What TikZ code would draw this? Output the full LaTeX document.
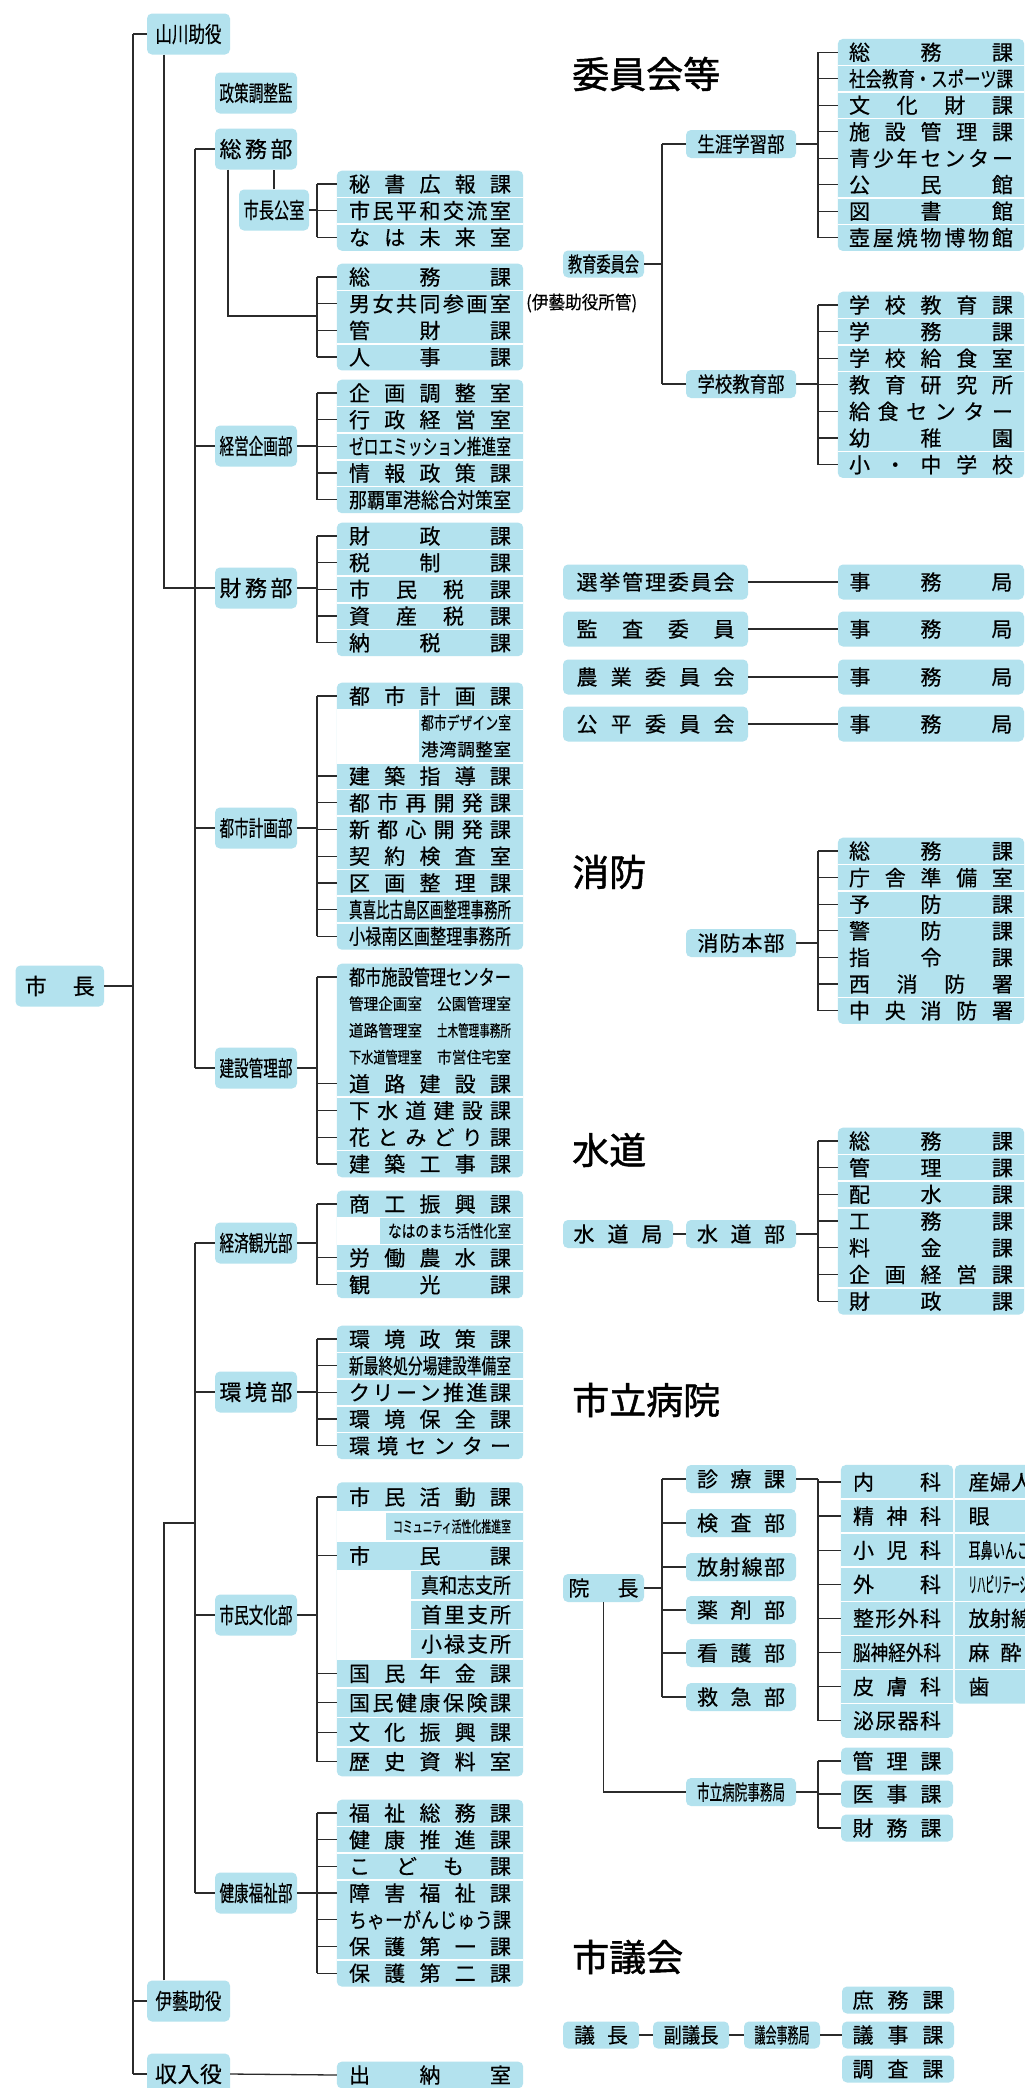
\documentclass[tikz,border=0pt]{standalone}
\usepackage{fontspec}
\usepackage{graphicx}
\usetikzlibrary{positioning}
\newfontfamily\jp[FakeBold=0.5]{Noto Sans CJK JP}
\newfontfamily\jpt[FakeBold=1.2]{Noto Sans CJK JP}
\definecolor{bf}{HTML}{B3E2EE}
\definecolor{lc}{HTML}{2B2B2B}
\pgfdeclarelayer{bg}
\pgfsetlayers{bg,main}
\newcommand\fs[1]{\fontsize{#1}{#1}\selectfont}
\ExplSyntaxOn
\box_new:N \l_spr_box
\bool_new:N \l_spr_first_bool
\NewDocumentCommand \spr { m m }
  {
    \hbox_set:Nn \l_spr_box { #2 }
    \dim_compare:nNnTF { \box_wd:N \l_spr_box } > { #1 }
      { \resizebox { #1 } { \height } { #2 } }
      {
        \hbox_to_wd:nn { #1 }
          {
            \bool_set_true:N \l_spr_first_bool
            \tl_map_inline:nn { #2 }
              {
                \bool_if:NTF \l_spr_first_bool
                  { \bool_set_false:N \l_spr_first_bool }
                  { \hfill }
                ##1
              }
          }
      }
  }
\ExplSyntaxOff
\newcommand\Lt[1]{\spr{162pt}{#1}}
\newcommand\Rt[1]{\spr{164pt}{#1}}
\newcommand\Pt[3]{\hbox to 162pt{\hfill\fs{#1}\spr{#2}{#3}}}
\newcommand\grp[2]{\begin{pgfonlayer}{bg}\fill[bf, rounded corners=5pt] (#1.north west) rectangle (#2.south east);\end{pgfonlayer}}
\newcommand\cut[3]{\begin{pgfonlayer}{bg}\fill[white] (#1.north west) rectangle ([xshift=#3]#2.south west);\end{pgfonlayer}}
\newcommand\seps[1]{\foreach \nn in {#1} {\draw[sepl] (\nn.south west) -- (\nn.south east);}}
\newcommand\tree[5]{%
  \draw[conn] (#1.east) -- (#1.east -| #2);
  \draw[conn] (#2 |- #1.east) -- (#2 |- #3.west);
  \draw[conn] (#2 |- #3.west) -- (#2 |- #4.west);
  \foreach \nn in {#5} {\draw[conn] (#2 |- \nn.west) -- (\nn.west);}
}
\tikzset{
  conn/.style={draw=lc, line width=1.3pt},
  sepl/.style={draw=white, line width=1.6pt},
  rowL/.style={inner sep=0pt, minimum width=186pt, minimum height=26.3pt, font=\jp\fs{21}, text=black},
  rowH/.style={inner sep=0pt, minimum width=112pt, minimum height=33.7pt, font=\jp\fs{21}, text=black},
  bx/.style={fill=bf, rounded corners=5pt, inner sep=0pt, font=\jp\fs{21}, text=black},
  dbox/.style={bx, minimum width=82pt, minimum height=41pt, font=\jp\fs{22}},
  ybox/.style={bx, minimum width=83pt, minimum height=41pt, font=\jp\fs{22}},
  rbox/.style={bx, minimum width=110pt, minimum height=28pt},
  ttl/.style={anchor=west, inner sep=0pt, font=\jpt\fs{37}, text=black},
}
\begin{document}
\begin{tikzpicture}[x=1pt, y=-1pt]
\useasboundingbox (0,0) rectangle (1025,2088);
\begin{pgfonlayer}{bg}\fill[white] (0,0) rectangle (1025,2088);\end{pgfonlayer}
% bus coordinates
\coordinate (busM0) at (133,0);
\coordinate (busY) at (164,0);
\coordinate (busM1) at (195,0);
\coordinate (busL) at (317,0);
\coordinate (busE) at (662,0);
\coordinate (busR) at (818,0);
\coordinate (somuJ) at (228,316);
\coordinate (igeiJ) at (164,1523);

% ===== left: top level
\node[bx, minimum width=88.5pt, minimum height=41pt, font=\jp\fs{22}] (mayor) at (59.75,986) {\spr{70pt}{市長}};
\node[ybox] (yamakawa) at (188.5,34) {\spr{66pt}{山川助役}};
\node[ybox] (igei) at (188.5,2001) {\spr{66pt}{伊藝助役}};
\node[ybox] (shunyu) at (188.5,2074) {\spr{67pt}{収入役}};
\node[dbox] (seisaku) at (256,93) {\spr{73pt}{政策調整監}};
\node[dbox] (somu) at (256,149) {\spr{73pt}{総務部}};
\node[dbox] (keiei) at (256,446) {\spr{73pt}{経営企画部}};
\node[dbox] (zaimu) at (256,588) {\spr{73pt}{財務部}};
\node[dbox] (toshi) at (256,828) {\spr{73pt}{都市計画部}};
\node[dbox] (kensetsu) at (256,1068) {\spr{73pt}{建設管理部}};
\node[dbox] (keizai) at (256,1243) {\spr{73pt}{経済観光部}};
\node[dbox] (kankyo) at (256,1392) {\spr{73pt}{環境部}};
\node[dbox] (shimin) at (256,1615) {\spr{73pt}{市民文化部}};
\node[dbox] (kenko) at (256,1893) {\spr{73pt}{健康福祉部}};
\node[bx, minimum width=70pt, minimum height=41pt, font=\jp\fs{22}] (kocho) at (274,210) {\spr{61pt}{市長公室}};

% ===== left leaf groups
\node[rowL] (kA1) at (430,184) {\Lt{秘書広報課}};
\node[rowL,below=0pt of kA1] (kA2) {\Lt{市民平和交流室}};
\node[rowL,below=0pt of kA2] (kA3) {\Lt{なは未来室}};
\grp{kA1}{kA3} \seps{kA1,kA2}

\node[rowL] (sA1) at (430,277) {\Lt{総務課}};
\node[rowL,below=0pt of sA1] (sA2) {\Lt{男女共同参画室}};
\node[rowL,below=0pt of sA2] (sA3) {\Lt{管財課}};
\node[rowL,below=0pt of sA3] (sA4) {\Lt{人事課}};
\grp{sA1}{sA4} \seps{sA1,sA3}
\node[anchor=west, inner sep=0pt, font=\jp\fs{18}] (note) at (526,303) {\spr{111pt}{(伊藝助役所管)}};

\node[rowL] (kk1) at (430,393) {\Lt{企画調整室}};
\node[rowL,below=0pt of kk1] (kk2) {\Lt{行政経営室}};
\node[rowL,below=0pt of kk2] (kk3) {\Lt{ゼロエミッション推進室}};
\node[rowL,below=0pt of kk3] (kk4) {\Lt{情報政策課}};
\node[rowL,below=0pt of kk4] (kk5) {\Lt{那覇軍港総合対策室}};
\grp{kk1}{kk5} \seps{kk1,kk2,kk3,kk4}

\node[rowL] (zm1) at (430,536) {\Lt{財政課}};
\node[rowL,below=0pt of zm1] (zm2) {\Lt{税制課}};
\node[rowL,below=0pt of zm2] (zm3) {\Lt{市民税課}};
\node[rowL,below=0pt of zm3] (zm4) {\Lt{資産税課}};
\node[rowL,below=0pt of zm4] (zm5) {\Lt{納税課}};
\grp{zm1}{zm5} \seps{zm1,zm2,zm3,zm4}

\node[rowL] (tk1) at (430,696) {\Lt{都市計画課}};
\node[rowL,below=0pt of tk1] (tk2) {\Pt{17.5}{90pt}{都市デザイン室}};
\node[rowL,below=0pt of tk2] (tk3) {\Pt{17.5}{90pt}{港湾調整室}};
\node[rowL,below=0pt of tk3] (tk4) {\Lt{建築指導課}};
\node[rowL,below=0pt of tk4] (tk5) {\Lt{都市再開発課}};
\node[rowL,below=0pt of tk5] (tk6) {\Lt{新都心開発課}};
\node[rowL,below=0pt of tk6] (tk7) {\Lt{契約検査室}};
\node[rowL,below=0pt of tk7] (tk8) {\Lt{区画整理課}};
\node[rowL,below=0pt of tk8] (tk9) {\Lt{真喜比古島区画整理事務所}};
\node[rowL,below=0pt of tk9] (tk10) {\Lt{小禄南区画整理事務所}};
\grp{tk1}{tk10} \cut{tk2}{tk3}{82pt} \seps{tk1,tk3,tk4,tk5,tk7,tk8,tk9}

\node[rowL] (kn1) at (430,977) {\Lt{都市施設管理センター}};
\node[rowL,below=0pt of kn1] (kn2) {\hbox to 162pt{\fs{16}\spr{73pt}{管理企画室}\hfill\spr{74pt}{公園管理室}}};
\node[rowL,below=0pt of kn2] (kn3) {\hbox to 162pt{\fs{16}\spr{73pt}{道路管理室}\hfill\spr{74pt}{土木管理事務所}}};
\node[rowL,below=0pt of kn3] (kn4) {\hbox to 162pt{\fs{16}\spr{73pt}{下水道管理室}\hfill\spr{74pt}{市営住宅室}}};
\node[rowL,below=0pt of kn4] (kn5) {\Lt{道路建設課}};
\node[rowL,below=0pt of kn5] (kn6) {\Lt{下水道建設課}};
\node[rowL,below=0pt of kn6] (kn7) {\Lt{花とみどり課}};
\node[rowL,below=0pt of kn7] (kn8) {\Lt{建築工事課}};
\grp{kn1}{kn8} \seps{kn5,kn7}

\node[rowL, minimum height=26.5pt] (kz1) at (430,1204) {\Lt{商工振興課}};
\node[rowL, minimum height=26.5pt,below=0pt of kz1] (kz2) {\Pt{17}{123pt}{なはのまち活性化室}};
\node[rowL, minimum height=26.5pt,below=0pt of kz2] (kz3) {\Lt{労働農水課}};
\node[rowL, minimum height=26.5pt,below=0pt of kz3] (kz4) {\Lt{観光課}};
\grp{kz1}{kz4} \cut{kz2}{kz2}{43pt} \seps{kz1,kz2,kz3}

\node[rowL] (kb1) at (430,1339) {\Lt{環境政策課}};
\node[rowL,below=0pt of kb1] (kb2) {\Lt{新最終処分場建設準備室}};
\node[rowL,below=0pt of kb2] (kb3) {\Lt{クリーン推進課}};
\node[rowL,below=0pt of kb3] (kb4) {\Lt{環境保全課}};
\node[rowL,below=0pt of kb4] (kb5) {\Lt{環境センター}};
\grp{kb1}{kb5} \seps{kb1,kb2,kb3,kb4}

\node[rowL, minimum height=29pt] (sb1) at (430,1497) {\Lt{市民活動課}};
\node[rowL, minimum height=29pt,below=0pt of sb1] (sb2) {\Pt{15.5}{118pt}{コミュニティ活性化推進室}};
\node[rowL, minimum height=29pt,below=0pt of sb2] (sb3) {\Lt{市民課}};
\node[rowL, minimum height=29pt,below=0pt of sb3] (sb4) {\Pt{21}{90pt}{真和志支所}};
\node[rowL, minimum height=29pt,below=0pt of sb4] (sb5) {\Pt{21}{90pt}{首里支所}};
\node[rowL, minimum height=29pt,below=0pt of sb5] (sb6) {\Pt{21}{90pt}{小禄支所}};
\node[rowL, minimum height=29pt,below=0pt of sb6] (sb7) {\Lt{国民年金課}};
\node[rowL, minimum height=29pt,below=0pt of sb7] (sb8) {\Lt{国民健康保険課}};
\node[rowL, minimum height=29pt,below=0pt of sb8] (sb9) {\Lt{文化振興課}};
\node[rowL, minimum height=29pt,below=0pt of sb9] (sb10) {\Lt{歴史資料室}};
\grp{sb1}{sb10} \cut{sb2}{sb2}{49pt} \cut{sb4}{sb6}{74pt}
\seps{sb1,sb2,sb3,sb4,sb5,sb6,sb7,sb8,sb9}

\node[rowL] (kf1) at (430,1813) {\Lt{福祉総務課}};
\node[rowL,below=0pt of kf1] (kf2) {\Lt{健康推進課}};
\node[rowL,below=0pt of kf2] (kf3) {\Lt{こども課}};
\node[rowL,below=0pt of kf3] (kf4) {\Lt{障害福祉課}};
\node[rowL,below=0pt of kf4] (kf5) {\Lt{ちゃーがんじゅう課}};
\node[rowL,below=0pt of kf5] (kf6) {\Lt{保護第一課}};
\node[rowL,below=0pt of kf6] (kf7) {\Lt{保護第二課}};
\grp{kf1}{kf7} \seps{kf1,kf2,kf3,kf6}

\node[rowL] (sn) at (430,2075) {\Lt{出納室}};
\grp{sn}{sn}

% ===== left connectors
\draw[conn] (mayor.east) -- (mayor.east -| busM0);
\draw[conn] (busM0 |- yamakawa.west) -- (busM0 |- shunyu.west);
\foreach \nn in {yamakawa,igei,shunyu} {\draw[conn] (busM0 |- \nn.west) -- (\nn.west);}
\draw[conn] (yamakawa.south -| busY) -- (busY |- zaimu.west) -- (zaimu.west);
\draw[conn] (busM1 |- somu.west) -- (busM1 |- kensetsu.west);
\foreach \nn in {somu,keiei,toshi,kensetsu} {\draw[conn] (busM1 |- \nn.west) -- (\nn.west);}
\draw[conn] (igei.north -| igeiJ) -- (igeiJ) -- (igeiJ -| busM1);
\draw[conn] (busM1 |- keizai.west) -- (busM1 |- kenko.west);
\foreach \nn in {keizai,kankyo,shimin,kenko} {\draw[conn] (busM1 |- \nn.west) -- (\nn.west);}

\draw[conn] (somu.south -| somuJ) -- (somuJ) -- (somuJ -| busL);
\draw[conn] (busL |- sA1.west) -- (busL |- sA4.west);
\foreach \nn in {sA1,sA2,sA3,sA4} {\draw[conn] (busL |- \nn.west) -- (\nn.west);}
\draw[conn] (kocho.north) -- (kocho.north |- somu.south);
\tree{kocho}{busL}{kA1}{kA3}{kA1,kA2,kA3}
\tree{keiei}{busL}{kk1}{kk5}{kk1,kk2,kk3,kk4,kk5}
\tree{zaimu}{busL}{zm1}{zm5}{zm1,zm2,zm3,zm4,zm5}
\tree{toshi}{busL}{tk1}{tk10}{tk1,tk4,tk5,tk6,tk7,tk8,tk9,tk10}
\tree{kensetsu}{busL}{kn1}{kn8}{kn1,kn5,kn6,kn7,kn8}
\tree{keizai}{busL}{kz1}{kz4}{kz1,kz3,kz4}
\tree{kankyo}{busL}{kb1}{kb5}{kb1,kb2,kb3,kb4,kb5}
\tree{shimin}{busL}{sb1}{sb10}{sb1,sb3,sb7,sb8,sb9,sb10}
\tree{kenko}{busL}{kf1}{kf7}{kf1,kf2,kf3,kf4,kf5,kf6,kf7}
\draw[conn] (shunyu.east) -- (sn.west);

% ===== right: titles
\node[ttl] (tt1) at (572,74) {委員会等};
\node[ttl] (tt2) at (572,872) {消防};
\node[ttl] (tt3) at (572,1150) {水道};
\node[ttl] (tt4) at (572,1400) {市立病院};
\node[ttl] (tt5) at (572,1957) {市議会};

% ===== education
\node[bx, minimum width=81pt, minimum height=27pt] (kyoiku) at (603.5,264) {\spr{71pt}{教育委員会}};
\node[rbox] (shogai) at (741,144) {\spr{87pt}{生涯学習部}};
\node[rbox] (gakko) at (741,384) {\spr{87pt}{学校教育部}};

\node[rowL, minimum height=26.1pt] (sg1) at (931,52.2) {\Rt{総務課}};
\node[rowL, minimum height=26.1pt,below=0pt of sg1] (sg2) {\Rt{社会教育・スポーツ課}};
\node[rowL, minimum height=26.1pt,below=0pt of sg2] (sg3) {\Rt{文化財課}};
\node[rowL, minimum height=26.1pt,below=0pt of sg3] (sg4) {\Rt{施設管理課}};
\node[rowL, minimum height=26.1pt,below=0pt of sg4] (sg5) {\Rt{青少年センター}};
\node[rowL, minimum height=26.1pt,below=0pt of sg5] (sg6) {\Rt{公民館}};
\node[rowL, minimum height=26.1pt,below=0pt of sg6] (sg7) {\Rt{図書館}};
\node[rowL, minimum height=26.1pt,below=0pt of sg7] (sg8) {\Rt{壺屋焼物博物館}};
\grp{sg1}{sg8} \seps{sg1,sg2,sg3,sg6,sg7}

\node[rowL, minimum height=26.2pt] (gk1) at (931,305) {\Rt{学校教育課}};
\node[rowL, minimum height=26.2pt,below=0pt of gk1] (gk2) {\Rt{学務課}};
\node[rowL, minimum height=26.2pt,below=0pt of gk2] (gk3) {\Rt{学校給食室}};
\node[rowL, minimum height=26.2pt,below=0pt of gk3] (gk4) {\Rt{教育研究所}};
\node[rowL, minimum height=26.2pt,below=0pt of gk4] (gk5) {\Rt{給食センター}};
\node[rowL, minimum height=26.2pt,below=0pt of gk5] (gk6) {\Rt{幼稚園}};
\node[rowL, minimum height=26.2pt,below=0pt of gk6] (gk7) {\Rt{小・中学校}};
\grp{gk1}{gk7} \seps{gk1,gk2,gk3,gk6}

\tree{kyoiku}{busE}{shogai}{gakko}{shogai,gakko}
\tree{shogai}{busR}{sg1}{sg8}{sg1,sg2,sg3,sg4,sg5,sg6,sg7,sg8}
\tree{gakko}{busR}{gk1}{gk7}{gk1,gk2,gk3,gk4,gk5,gk6,gk7}

% ===== committees
\node[bx, minimum width=185pt, minimum height=35pt] (senkyo) at (655.5,582) {\spr{158pt}{選挙管理委員会}};
\node[bx, minimum width=185pt, minimum height=35pt] (kansa) at (655.5,629) {\spr{158pt}{監査委員}};
\node[bx, minimum width=185pt, minimum height=35pt] (nogyo) at (655.5,677) {\spr{158pt}{農業委員会}};
\node[bx, minimum width=185pt, minimum height=35pt] (kohei) at (655.5,724) {\spr{158pt}{公平委員会}};
\node[bx, minimum width=186pt, minimum height=35pt] (sj1) at (931,582) {\spr{163pt}{事務局}};
\node[bx, minimum width=186pt, minimum height=35pt] (sj2) at (931,629) {\spr{163pt}{事務局}};
\node[bx, minimum width=186pt, minimum height=35pt] (sj3) at (931,677) {\spr{163pt}{事務局}};
\node[bx, minimum width=186pt, minimum height=35pt] (sj4) at (931,724) {\spr{163pt}{事務局}};
\draw[conn] (senkyo.east) -- (sj1.west);
\draw[conn] (kansa.east) -- (sj2.west);
\draw[conn] (nogyo.east) -- (sj3.west);
\draw[conn] (kohei.east) -- (sj4.west);

% ===== fire
\node[rbox] (shobo) at (741,943) {\spr{87pt}{消防本部}};
\node[rowL, minimum height=26.2pt] (sh1) at (931,851) {\Rt{総務課}};
\node[rowL, minimum height=26.2pt,below=0pt of sh1] (sh2) {\Rt{庁舎準備室}};
\node[rowL, minimum height=26.2pt,below=0pt of sh2] (sh3) {\Rt{予防課}};
\node[rowL, minimum height=26.2pt,below=0pt of sh3] (sh4) {\Rt{警防課}};
\node[rowL, minimum height=26.2pt,below=0pt of sh4] (sh5) {\Rt{指令課}};
\node[rowL, minimum height=26.2pt,below=0pt of sh5] (sh6) {\Rt{西消防署}};
\node[rowL, minimum height=26.2pt,below=0pt of sh6] (sh7) {\Rt{中央消防署}};
\grp{sh1}{sh7} \seps{sh1,sh2,sh3,sh6}
\tree{shobo}{busR}{sh1}{sh7}{sh1,sh2,sh3,sh4,sh5,sh6,sh7}

% ===== water
\node[rbox] (suidokyoku) at (618,1234) {\spr{89pt}{水道局}};
\node[rbox] (suidobu) at (741,1234) {\spr{88pt}{水道部}};
\node[rowL] (sd1) at (931,1141) {\Rt{総務課}};
\node[rowL,below=0pt of sd1] (sd2) {\Rt{管理課}};
\node[rowL,below=0pt of sd2] (sd3) {\Rt{配水課}};
\node[rowL,below=0pt of sd3] (sd4) {\Rt{工務課}};
\node[rowL,below=0pt of sd4] (sd5) {\Rt{料金課}};
\node[rowL,below=0pt of sd5] (sd6) {\Rt{企画経営課}};
\node[rowL,below=0pt of sd6] (sd7) {\Rt{財政課}};
\grp{sd1}{sd7} \seps{sd1,sd2,sd3,sd6}
\draw[conn] (suidokyoku.east) -- (suidobu.west);
\tree{suidobu}{busR}{sd1}{sd7}{sd1,sd2,sd3,sd4,sd5,sd6,sd7}

% ===== hospital
\node[bx, minimum width=81pt, minimum height=28pt] (incho) at (603.5,1588) {\spr{70pt}{院長}};
\node[rbox] (shinryo) at (741,1479) {\spr{88pt}{診療課}};
\node[rbox] (kensa) at (741,1523) {\spr{88pt}{検査部}};
\node[rbox] (hoshasen) at (741,1567) {\spr{88pt}{放射線部}};
\node[rbox] (yakuzai) at (741,1610) {\spr{88pt}{薬剤部}};
\node[rbox] (kango) at (741,1653) {\spr{88pt}{看護部}};
\node[rbox] (kyukyu) at (741,1697) {\spr{88pt}{救急部}};
\node[rbox] (byojimu) at (741,1792) {\spr{88pt}{市立病院事務局}};

\node[rowH] (hk1) at (897,1482) {\spr{88pt}{内科}};
\node[rowH,below=0pt of hk1] (hk2) {\spr{88pt}{精神科}};
\node[rowH,below=0pt of hk2] (hk3) {\spr{88pt}{小児科}};
\node[rowH,below=0pt of hk3] (hk4) {\spr{88pt}{外科}};
\node[rowH,below=0pt of hk4] (hk5) {\spr{88pt}{整形外科}};
\node[rowH,below=0pt of hk5] (hk6) {\spr{88pt}{脳神経外科}};
\node[rowH,below=0pt of hk6] (hk7) {\spr{88pt}{皮膚科}};
\node[rowH,below=0pt of hk7] (hk8) {\spr{88pt}{泌尿器科}};
\grp{hk1}{hk8} \seps{hk1,hk2,hk3,hk4,hk5,hk6,hk7}
\node[rowH] (hl1) at (1011,1482) {\spr{85pt}{産婦人科}};
\node[rowH,below=0pt of hl1] (hl2) {\spr{85pt}{眼科}};
\node[rowH,below=0pt of hl2] (hl3) {\spr{85pt}{耳鼻いんこう科}};
\node[rowH,below=0pt of hl3] (hl4) {\spr{85pt}{リハビリテーション科}};
\node[rowH,below=0pt of hl4] (hl5) {\spr{85pt}{放射線科}};
\node[rowH,below=0pt of hl5] (hl6) {\spr{85pt}{麻酔科}};
\node[rowH,below=0pt of hl6] (hl7) {\spr{85pt}{歯科}};
\grp{hl1}{hl7} \seps{hl1,hl2,hl3,hl4,hl5,hl6}

\node[bx, minimum width=112pt, minimum height=27pt] (jm1) at (897,1761) {\spr{89pt}{管理課}};
\node[bx, minimum width=112pt, minimum height=27pt] (jm2) at (897,1794) {\spr{89pt}{医事課}};
\node[bx, minimum width=112pt, minimum height=27pt] (jm3) at (897,1828) {\spr{89pt}{財務課}};

\tree{incho}{busE}{shinryo}{kyukyu}{shinryo,kensa,hoshasen,yakuzai,kango,kyukyu}
\draw[conn] (incho.south) |- (byojimu.west);
\tree{shinryo}{busR}{hk1}{hk8}{hk1,hk2,hk3,hk4,hk5,hk6,hk7,hk8}
\tree{byojimu}{busR}{jm1}{jm3}{jm1,jm2,jm3}

% ===== council
\node[bx, minimum width=76pt, minimum height=27pt] (gicho) at (601,2035) {\spr{54pt}{議長}};
\node[bx, minimum width=76pt, minimum height=27pt] (fukugi) at (691,2035) {\spr{55pt}{副議長}};
\node[bx, minimum width=76pt, minimum height=27pt] (gikaijm) at (782,2035) {\spr{55pt}{議会事務局}};
\node[bx, minimum width=112pt, minimum height=27pt] (gi1) at (898,2000) {\spr{91pt}{庶務課}};
\node[bx, minimum width=112pt, minimum height=27pt] (gi2) at (898,2035) {\spr{91pt}{議事課}};
\node[bx, minimum width=112pt, minimum height=27pt] (gi3) at (898,2069) {\spr{91pt}{調査課}};
\draw[conn] (gicho.east) -- (fukugi.west);
\draw[conn] (fukugi.east) -- (gikaijm.west);
\draw[conn] (gikaijm.east) -- (gi2.west);
\end{tikzpicture}
\end{document}
